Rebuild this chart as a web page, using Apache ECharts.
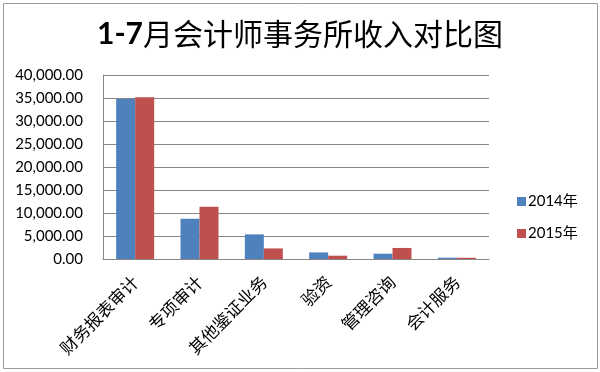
<!DOCTYPE html>
<html>
<head>
<meta charset="utf-8">
<script src="https://cdn.jsdelivr.net/npm/echarts@6/dist/echarts.min.js"></script>
<style>html,body{margin:0;padding:0;background:#fff;}#c{width:600px;height:372px;}</style>
</head>
<body>
<div id="c"></div>
<script>
var categories = ['财务报表审计', '专项审计', '其他鉴证业务', '验资', '管理咨询', '会计服务'];
var values2014 = [34800, 8750, 5350, 1430, 1150, 280];
var values2015 = [35150, 11350, 2300, 720, 2400, 270];
var seriesNames = ['2014年', '2015年'];
var yMin = 0, yMax = 40000, yInterval = 5000;

var chart = echarts.init(document.getElementById('c'), null, {renderer: 'canvas'});
var cjk = '"Noto Sans CJK SC", sans-serif';
chart.setOption({
  animation: false,
  backgroundColor: '#fff',
  graphic: [{
    type: 'rect', left: 3, top: 3, z: -1,
    shape: {width: 594, height: 365},
    style: {fill: '#fff', stroke: '#9a9a9a', lineWidth: 1}
  }],
  title: {
    text: '{a|1-7}{b|月会计师事务所收入对比图}',
    left: 'center', top: 14,
    textStyle: {
      rich: {
        a: {fontFamily: 'Lato, sans-serif', fontWeight: 'bold', fontSize: 30, color: '#000'},
        b: {fontFamily: cjk, fontWeight: 'normal', fontSize: 30, color: '#000'}
      }
    }
  },
  legend: {
    orient: 'vertical', left: 512, top: 189,
    itemWidth: 9, itemHeight: 9, itemGap: 17,
    icon: 'rect',
    textStyle: {fontFamily: 'Lato, ' + cjk, fontSize: 15, color: '#000', padding: [0, 0, 0, -3]},
    data: seriesNames
  },
  grid: {left: 103, right: 111, top: 75, bottom: 113, containLabel: false},
  xAxis: {
    type: 'category', data: categories,
    axisLine: {lineStyle: {color: '#868686'}},
    axisTick: {show: false},
    axisLabel: {rotate: 45, interval: 0, margin: 20, fontFamily: cjk, fontSize: 17, color: '#000'}
  },
  yAxis: {
    type: 'value', min: yMin, max: yMax, interval: yInterval,
    axisLine: {show: true, lineStyle: {color: '#868686'}},
    axisTick: {show: false},
    splitLine: {lineStyle: {color: '#868686'}},
    axisLabel: {
      margin: 20, fontFamily: 'Lato, sans-serif', fontSize: 15, color: '#000',
      formatter: function (v) { return v.toLocaleString('en-US', {minimumFractionDigits: 2, maximumFractionDigits: 2}); }
    }
  },
  series: [
    {name: seriesNames[0], type: 'bar', data: values2014, barWidth: 19, barGap: '0%', itemStyle: {color: '#4F81BD'}},
    {name: seriesNames[1], type: 'bar', data: values2015, barWidth: 19, barGap: '0%', itemStyle: {color: '#C0504D'}}
  ]
});
</script>
</body>
</html>
